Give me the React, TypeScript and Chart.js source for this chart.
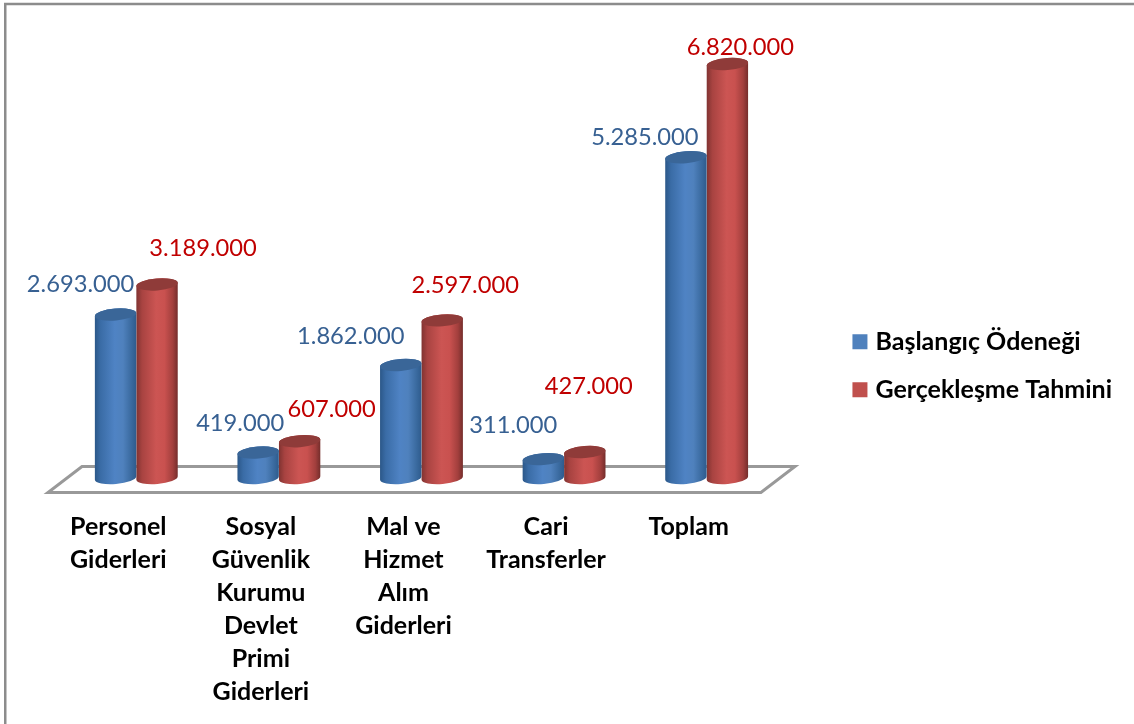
import React, { useEffect, useRef } from "react";
import { Chart, registerables } from "chart.js";

Chart.register(...registerables);

const categories: string[][] = [
  ["Personel", "Giderleri"],
  ["Sosyal", "Güvenlik", "Kurumu", "Devlet", "Primi", "Giderleri"],
  ["Mal ve", "Hizmet", "Alım", "Giderleri"],
  ["Cari", "Transferler"],
  ["Toplam"],
];
const baslangic = [2693000, 419000, 1862000, 311000, 5285000];
const gerceklesme = [3189000, 607000, 2597000, 427000, 6820000];

// Hand-placed label offsets of the original, relative to each bar's centre/top.
const labelNudgeA = [[-35, -30], [-18, -29], [-50, -29], [-30, -34], [-41, -20]];
const labelNudgeB = [[46, -36], [32, -32], [23, -35], [4, -66], [13, -17]];

const LABEL_FONT = '23.7px Lato, "Open Sans", sans-serif';
const BOLD_SIZE = 25;
const BOLD_FONT = { family: 'Lato, "Open Sans", sans-serif', size: BOLD_SIZE, weight: "bold" as const };

const styles = [
  {
    stops: ["#2b5788", "#3a6ca6", "#4f83c4", "#4f81bd", "#3a6a9f", "#2e5b8d"],
    top: "#3a6698",
    text: "#376092",
    nudge: labelNudgeA,
  },
  {
    stops: ["#803331", "#a84341", "#cc5553", "#c9514f", "#a23f3d", "#742d2b"],
    top: "#8f3b39",
    text: "#c00000",
    nudge: labelNudgeB,
  },
];
const stopAt = [0, 0.14, 0.48, 0.68, 0.88, 1];

const fmt = (v: number) => String(v).replace(/\B(?=(\d{3})+$)/g, ".");

const TILT = -0.08;
const RY = 6;

const cylinderPlugin = {
  id: "cylinderPlugin",
  beforeDraw(chart: any) {
    const { ctx } = chart;
    // outer frame: only top and left edges are visible
    ctx.save();
    ctx.strokeStyle = "#8c8c8c";
    ctx.lineWidth = 2.5;
    ctx.beginPath();
    ctx.moveTo(5.25, chart.height);
    ctx.lineTo(5.25, 4);
    ctx.lineTo(chart.width, 4);
    ctx.stroke();
    ctx.restore();
  },
  beforeDatasetsDraw(chart: any) {
    const { ctx, chartArea, scales } = chart;
    const b = scales.y.getPixelForValue(0);
    ctx.save();
    ctx.strokeStyle = "#999999";
    ctx.lineWidth = 3;
    ctx.lineJoin = "miter";
    ctx.beginPath();
    ctx.moveTo(chartArea.left + 17, b - 11.5);
    ctx.lineTo(chartArea.right + 17, b - 11.5);
    ctx.lineTo(chartArea.right - 17, b + 14.5);
    ctx.lineTo(chartArea.left - 17, b + 14.5);
    ctx.closePath();
    ctx.stroke();
    ctx.restore();
  },
  beforeDatasetDraw(chart: any, args: any) {
    const { ctx } = chart;
    const meta = chart.getDatasetMeta(args.index);
    const st = styles[args.index];
    meta.data.forEach((el: any) => {
      const { x, y, base, width } = el.getProps(["x", "y", "base", "width"], true);
      const rx = width / 2;
      const g = ctx.createLinearGradient(x - rx, 0, x + rx, 0);
      st.stops.forEach((c: string, i: number) => g.addColorStop(stopAt[i], c));
      ctx.save();
      ctx.beginPath();
      ctx.ellipse(x, base, rx, RY, TILT, 0, Math.PI);
      ctx.ellipse(x, y, rx, RY, TILT, Math.PI, Math.PI * 2);
      ctx.closePath();
      ctx.fillStyle = g;
      ctx.fill();
      ctx.beginPath();
      ctx.ellipse(x, y, rx, RY, TILT, 0, Math.PI * 2);
      ctx.fillStyle = st.top;
      ctx.fill();
      ctx.restore();
    });
    return false;
  },
  afterDatasetsDraw(chart: any) {
    const { ctx } = chart;
    ctx.save();
    ctx.font = LABEL_FONT;
    ctx.textAlign = "center";
    ctx.textBaseline = "middle";
    chart.data.datasets.forEach((ds: any, d: number) => {
      const st = styles[d];
      chart.getDatasetMeta(d).data.forEach((el: any, i: number) => {
        ctx.fillStyle = st.text;
        ctx.fillText(fmt(ds.data[i]), el.x + st.nudge[i][0], el.y + st.nudge[i][1]);
      });
    });
    ctx.restore();
  },
};

export default function App() {
  const ref = useRef<HTMLCanvasElement>(null);
  useEffect(() => {
    const chart = new Chart(ref.current as HTMLCanvasElement, {
      type: "bar",
      data: {
        labels: categories as any,
        datasets: [
          { label: "Başlangıç Ödeneği", data: baslangic, backgroundColor: "#4f81bd", borderWidth: 0 },
          { label: "Gerçekleşme Tahmini", data: gerceklesme, backgroundColor: "#c0504d", borderWidth: 0 },
        ],
      },
      options: {
        responsive: false,
        animation: false,
        layout: { padding: { left: 65, top: -8.5, bottom: -16, right: 12 } },
        datasets: { bar: { categoryPercentage: 0.582, barPercentage: 1 } },
        scales: {
          x: {
            grid: { display: false, drawTicks: false },
            border: { display: false },
            ticks: {
              autoSkip: false,
              maxRotation: 0,
              minRotation: 0,
              padding: 32,
              labelOffset: -18,
              color: "#000000",
              font: { ...BOLD_FONT, lineHeight: 33 / BOLD_SIZE },
            },
          },
          y: {
            position: "right",
            min: 0,
            max: 7876000,
            grid: { display: false, drawTicks: false },
            border: { display: false },
            ticks: { display: false },
            afterFit(s: any) {
              s.width = 56;
            },
          },
        },
        plugins: {
          tooltip: { enabled: false },
          legend: {
            position: "right",
            maxWidth: 400,
            labels: {
              boxWidth: 6,
              boxHeight: 6,
              padding: 23,
              color: "#000000",
              font: BOLD_FONT,
              generateLabels(c: any) {
                return c.data.datasets.map((ds: any, i: number) => ({
                  text: ds.label,
                  fillStyle: ds.backgroundColor,
                  strokeStyle: ds.backgroundColor,
                  lineWidth: 9,
                  fontColor: "#000000",
                  datasetIndex: i,
                }));
              },
            },
          },
        },
      } as any,
      plugins: [cylinderPlugin as any],
    });
    return () => chart.destroy();
  }, []);
  return (
    <div style={{ position: "absolute", left: 0, top: 0, width: 1134, height: 724, background: "#ffffff" }}>
      <canvas ref={ref} width={1134} height={724} style={{ display: "block" }} />
    </div>
  );
}
